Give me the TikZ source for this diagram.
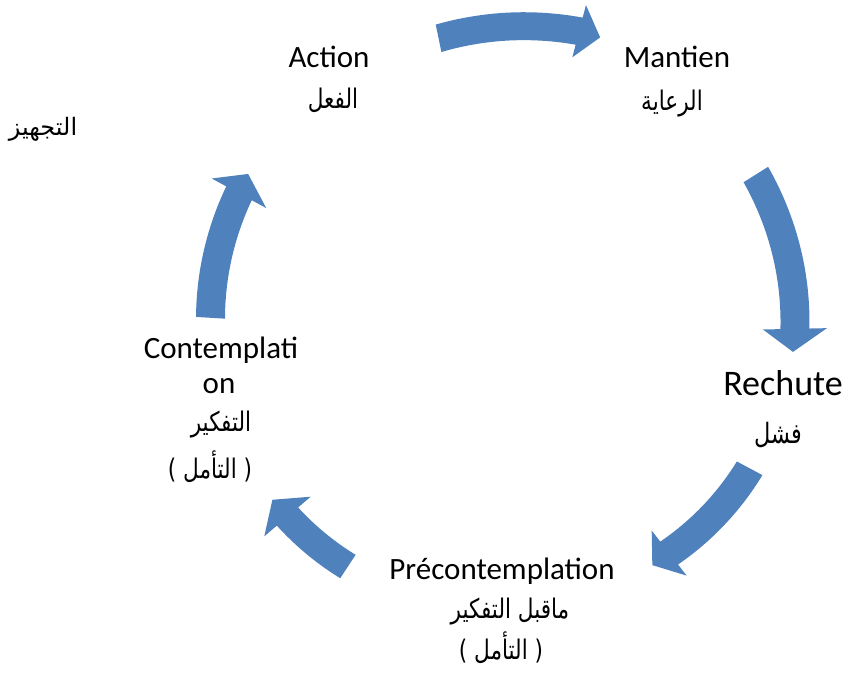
\documentclass[tikz,border=0pt]{standalone}
\usepackage{fontspec}
\setmainfont{Carlito}
\newfontfamily\arabicfont[Script=Arabic, FakeStretch=0.8]{DejaVu Sans}
\newfontfamily\arabicplain[Script=Arabic]{DejaVu Sans}
\TeXXeTstate=1
\definecolor{arrowblue}{HTML}{4F81BD}
\newcommand\cycarrow[8]{%
  \fill[arrowblue]
    plot[domain=#1:#3, samples=30, smooth] ({500+(#2+(#4-#2)*(\x-#1)/(#3-#1)+#7/2)*cos(\x)}, {335+(#2+(#4-#2)*(\x-#1)/(#3-#1)+#7/2)*sin(\x)})
    -- ({500+(#4+#8/2)*cos(#3)}, {335+(#4+#8/2)*sin(#3)})
    -- ({500+#6*cos(#5)}, {335+#6*sin(#5)})
    -- ({500+(#4-#8/2)*cos(#3)}, {335+(#4-#8/2)*sin(#3)})
    -- plot[domain=#3:#1, samples=30, smooth] ({500+(#2+(#4-#2)*(\x-#1)/(#3-#1)-#7/2)*cos(\x)}, {335+(#2+(#4-#2)*(\x-#1)/(#3-#1)-#7/2)*sin(\x)})
    -- cycle;}
\tikzset{
  lat/.style={font=\fontsize{31}{36}\selectfont, anchor=base, inner sep=0pt},
  latbig/.style={font=\fontsize{36}{40}\selectfont, anchor=base, inner sep=0pt},
  arab/.style={font=\fontsize{27}{30}\selectfont\arabicfont, anchor=base, inner sep=0pt},
  arabbig/.style={font=\fontsize{28}{34}\selectfont\arabicfont, anchor=base, inner sep=0pt},
  arabsmall/.style={font=\fontsize{24}{26}\selectfont\arabicplain, anchor=base, inner sep=0pt}
}
\begin{document}
\begin{tikzpicture}[x=1pt, y=-1pt]
\useasboundingbox (0,0) rectangle (846,683);
% block arrows of the cycle
\cycarrow{258.3}{303}{284.6}{314}{288.6}{314}{28}{54}
\cycarrow{327.9}{302}{358.8}{295}{363.3}{293.5}{29}{64}
\cycarrow{28.1}{283}{52.2}{276}{56.5}{276}{29}{57}
\cycarrow{123.3}{277}{139.5}{279.5}{144.1}{281}{28}{61}
\cycarrow{183.4}{290}{208.5}{297}{212.6}{299}{29}{62}
% texts
\node[arabsmall] (prep) at (43,135) {\beginR التجهيز\endR};
\node[lat] (action) at (329,67) {Action};
\node[arab] (actionar) at (333,108) {\beginR الفعل\endR};
\node[lat] (maint) at (677,67) {Mantien};
\node[arab] (maintar) at (672,110) {\beginR الرعاية\endR};
\node[latbig] (rech) at (783,395) {Rechute};
\node[arabbig] (rechar) at (778,443) {\beginR فشل\endR};
\node[lat] (cont1) at (221,358) {Contemplati};
\node[lat] (cont2) at (219,393) {on};
\node[arab] (contar1) at (221,431) {\beginR التفكير\endR};
\node[arab] (contar2) at (210,478) {\beginR( التأمل )\endR};
\node[lat] (prec) at (502,579) {Précontemplation};
\node[arab] (precar1) at (510,618) {\beginR ماقبل التفكير\endR};
\node[arab] (precar2) at (501,659) {\beginR( التأمل )\endR};
\end{tikzpicture}
\end{document}
